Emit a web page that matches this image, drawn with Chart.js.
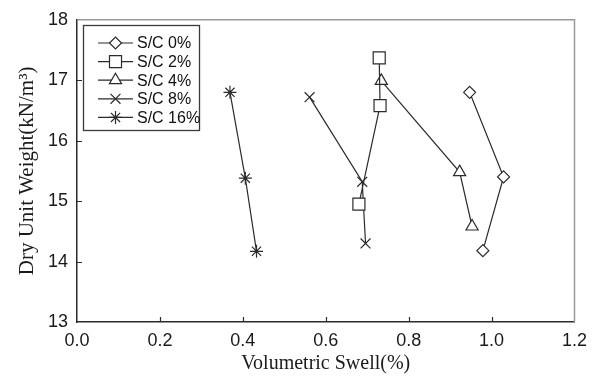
<!DOCTYPE html>
<html lang="en">
<head>
  <meta charset="UTF-8">
  <title>Dry Unit Weight vs Volumetric Swell</title>
  <script src="https://cdn.jsdelivr.net/npm/chart.js"></script>
  <style>
    html, body { margin: 0; padding: 0; background: #fff; }
  </style>
</head>
<body>
  <canvas id="swellChart" width="595" height="376"></canvas>

  <script>
    // data
    const seriesNames = ['S/C 0%', 'S/C 2%', 'S/C 4%', 'S/C 8%', 'S/C 16%'];
    const swell0 = [0.947, 1.029, 0.979];
    const weight0 = [16.80, 15.40, 14.18];
    const swell2 = [0.729, 0.731, 0.680];
    const weight2 = [17.37, 16.58, 14.95];
    const swell4 = [0.734, 0.923, 0.953];
    const weight4 = [16.99, 15.48, 14.58];
    const swell8 = [0.561, 0.688, 0.696];
    const weight8 = [16.72, 15.32, 14.30];
    const swell16 = [0.369, 0.406, 0.433];
    const weight16 = [16.80, 15.38, 14.17];
    const xTicks = [0, 0.2, 0.4, 0.6, 0.8, 1.0, 1.2];
    const yTicks = [13, 14, 15, 16, 17, 18];

    const markers = [
      { style: 'rectRot', radius: 6 },
      { style: 'rect', radius: 8.5 },
      { style: 'triangle', radius: 7 },
      { style: 'crossRot', radius: 7 },
      { style: 'star', radius: 6.5 }
    ];
    const ink = '#2b2b2b';

    function toPoints(xs, ys) {
      return xs.map((x, i) => ({ x: x, y: ys[i] }));
    }
    const allX = [swell0, swell2, swell4, swell8, swell16];
    const allY = [weight0, weight2, weight4, weight8, weight16];

    const datasets = seriesNames.map((name, i) => ({
      label: name,
      data: toPoints(allX[i], allY[i]),
      showLine: true,
      borderColor: ink,
      borderWidth: 1.2,
      backgroundColor: '#fff',
      pointStyle: markers[i].style,
      pointRadius: markers[i].radius,
      pointBorderWidth: 1.2,
      pointBorderColor: ink,
      pointBackgroundColor: '#fff',
      tension: 0
    }));

    // frame on top/right, inward ticks and the boxed legend
    const decorations = {
      id: 'decorations',
      afterDraw(chart) {
        const ctx = chart.ctx;
        const a = chart.chartArea;
        const xs = chart.scales.x, ys = chart.scales.y;
        ctx.save();
        ctx.strokeStyle = '#9a9a9a';
        ctx.lineWidth = 1.5;
        ctx.beginPath();
        ctx.moveTo(a.left, a.top);
        ctx.lineTo(a.right, a.top);
        ctx.lineTo(a.right, a.bottom);
        ctx.stroke();

        ctx.strokeStyle = ink;
        ctx.lineWidth = 1.2;
        ctx.beginPath();
        xTicks.slice(1, -1).forEach(v => {
          const px = Math.round(xs.getPixelForValue(v)) + 0.5;
          ctx.moveTo(px, a.bottom);
          ctx.lineTo(px, a.bottom - 5);
        });
        yTicks.slice(1, -1).forEach(v => {
          const py = Math.round(ys.getPixelForValue(v)) + 0.5;
          ctx.moveTo(a.left, py);
          ctx.lineTo(a.left + 5, py);
        });
        ctx.stroke();

        // legend box
        ctx.strokeStyle = '#3a3a3a';
        ctx.lineWidth = 1.3;
        ctx.strokeRect(83.5, 25.5, 116, 105);
        ctx.font = '16px "Liberation Sans", Arial, sans-serif';
        ctx.textBaseline = 'middle';
        seriesNames.forEach((name, i) => {
          const y = 43 + i * 18.6;
          ctx.strokeStyle = ink;
          ctx.lineWidth = 1.2;
          ctx.beginPath();
          ctx.moveTo(98, y);
          ctx.lineTo(133, y);
          ctx.stroke();
          ctx.fillStyle = '#fff';
          Chart.helpers.drawPoint(ctx, {
            pointStyle: markers[i].style,
            radius: markers[i].radius,
            borderWidth: 1.2,
            rotation: 0
          }, 115.5, y);
          ctx.fillStyle = '#111';
          ctx.fillText(name, 137, y + 1);
        });
        ctx.restore();
      }
    };

    new Chart(document.getElementById('swellChart'), {
      type: 'scatter',
      data: { datasets: datasets },
      options: {
        responsive: false,
        animation: false,
        layout: { padding: { top: 19, right: 20, left: 0, bottom: 0 } },
        plugins: {
          legend: { display: false },
          tooltip: { enabled: false }
        },
        scales: {
          x: {
            type: 'linear',
            min: 0,
            max: 1.2,
            afterBuildTicks: s => { s.ticks = xTicks.map(v => ({ value: v })); },
            afterFit: s => { s.height = 54; },
            grid: { display: false, drawTicks: false },
            border: { display: true, color: ink, width: 1.5 },
            ticks: {
              padding: 8,
              color: '#1a1a1a',
              font: { family: '"Liberation Sans", Arial, sans-serif', size: 18 },
              callback: v => v.toFixed(1),
              maxRotation: 0
            },
            title: {
              display: true,
              text: 'Volumetric Swell(%)',
              color: '#1a1a1a',
              padding: { top: 4, bottom: 0 },
              font: { family: '"Liberation Serif", "Times New Roman", serif', size: 20 }
            }
          },
          y: {
            type: 'linear',
            min: 13,
            max: 18,
            afterBuildTicks: s => { s.ticks = yTicks.map(v => ({ value: v })); },
            afterFit: s => { s.width = 77; },
            grid: { display: false, drawTicks: false },
            border: { display: true, color: ink, width: 1.5 },
            ticks: {
              padding: 9,
              color: '#1a1a1a',
              font: { family: '"Liberation Sans", Arial, sans-serif', size: 18 }
            },
            title: {
              display: true,
              text: 'Dry Unit Weight(kN/m³)',
              color: '#1a1a1a',
              padding: { top: 15, bottom: 0 },
              font: { family: '"Liberation Serif", "Times New Roman", serif', size: 21 }
            }
          }
        }
      },
      plugins: [decorations]
    });
  </script>
</body>
</html>
